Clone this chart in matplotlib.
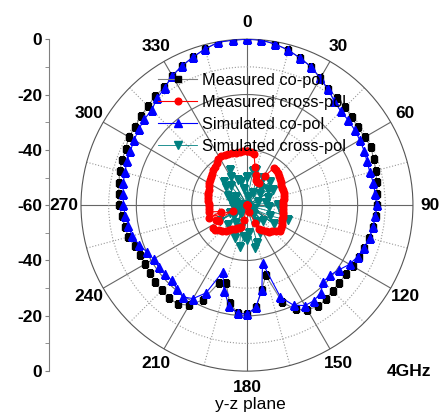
import matplotlib.pyplot as plt
import numpy as np

plt.rcParams['font.family'] = ['Liberation Sans', 'DejaVu Sans']

# 4 GHz patterns, y-z plane, dB (5 deg steps, clockwise from 0 at top)
angles = np.arange(0, 360, 5)

meas_co = [0, -0.1, -0.9, -2, -3.5, -4.9, -7, -8.9, -9.2, -9.8, -10.6, -11,
           -10.8, -10.5, -11.3, -11.7, -12.4, -12.8, -13, -13.3, -13.8, -14.4, -15, -15.5,
           -15.9, -16.3, -16.4, -16.2, -15.6, -15.3, -16.4, -18.4, -22.7, -33.7, -29, -23,
           -20.6, -21, -24, -30.8, -30, -22.2, -18.2, -16.4, -16.1, -16.5, -16.7, -17.1,
           -17.5, -17.3, -16.8, -15.6, -15.2, -14.6, -13.8, -13.5, -13, -12.4, -12, -11.6,
           -10.7, -10.6, -9.9, -9.4, -8.4, -8, -6, -4.5, -3, -1.5, -0.2, -0.1]

sim_co = [0, -0.1, -0.9, -2, -3.5, -4.9, -7, -8.9, -10.9, -12, -12.2, -12.5,
          -12.9, -13.3, -13.8, -14, -13.6, -13.5, -13.1, -13.4, -13.8, -14.1, -14.8, -15.9,
          -17.2, -19.3, -20.7, -20.9, -18.6, -17.8, -18.1, -20.1, -24.6, -38.3, -29, -22.9,
          -20.6, -20.7, -23, -28, -34.4, -25, -21, -19.5, -20.5, -21.5, -21.4, -21,
          -21, -20, -18.4, -17, -16.5, -15.8, -15.3, -15.1, -14.5, -14.3, -13.8, -13.5,
          -12.9, -12.2, -11.6, -11.3, -9.5, -8.2, -6, -4.4, -3, -1.5, -0.2, -0.1]

sim_cross = [-49.7, -57, -47.6, -46.7, -50, -55, -48.7, -60, -52, -48.1, -54, -50.6,
             -49, -60, -51.9, -56, -60, -53, -48.7, -52, -60, -47, -44.1, -50.9,
             -57, -47.9, -60, -52, -56, -60, -53, -49, -60, -45.7, -44.1, -50,
             -47.3, -48.5, -44.7, -51.4, -47.4, -60, -52.4, -56, -60, -50.1, -53.9, -60,
             -48.8, -53.4, -60, -56, -60, -55, -57, -60, -56, -54, -54.7, -52.3,
             -60, -55, -50, -48.4, -50.9, -60, -48.4, -45.9, -50.2, -51.4, -54, -60]

# measured cross-pol is sampled more finely (4 deg steps)
cross_angles = np.arange(0, 360, 4)
meas_cross = [-40.5, -40.6, -41.5, -46, -48.5, -50.5, -51, -51, -47.4, -43.2,
              -43.5, -43.9, -44.3, -44.8, -45.3, -45.6, -45.8, -45.8, -46, -46.3,
              -46.5, -46.8, -46.9, -46.9, -46.8, -46.6, -46.5, -46.3, -46.3, -46,
              -45.5, -45, -45, -45.8, -46.8, -47.5, -48.5, -49.5, -50.4, -53,
              -57.4, -60, -60, -60, -60, -60, -60, -60, -54.4, -51.8,
              -51.3, -50.8, -50.4, -50, -49, -48, -47, -46.5, -45.5, -45.2,
              -48.5, -47.5, -54.7, -45.5, -50.5, -46, -46.3, -46.4, -46.3, -46,
              -45.8, -45.4, -45.2, -45, -44.6, -44.2, -43.8, -43.3, -42.9, -42.5,
              -42.2, -41.3, -40.2, -40, -40.2, -40.4, -40.5, -40.6, -40.6, -40.5]

tick_deg = np.arange(0, 360, 30)
tick_labels = [str(d) for d in tick_deg]
minor_deg = np.arange(15, 360, 30)
r_min, r_max = -60, 0


def closed(deg, vals):
    th = np.deg2rad(np.append(deg, deg[0]))
    return th, np.append(vals, vals[0])


fig = plt.figure(figsize=(4.45, 4.17), dpi=100)
ax = fig.add_axes([0.182, 0.110, 0.746, 0.796], projection='polar')
ax.set_theta_zero_location('N')
ax.set_theta_direction(-1)
ax.set_ylim(r_min, r_max)

ax.set_xticks(np.deg2rad(tick_deg))
ax.set_xticklabels(tick_labels, fontsize=12.5, fontweight='bold')
ax.set_xticks(np.deg2rad(minor_deg), minor=True)
ax.tick_params(axis='x', which='both', direction='in', length=4, color='#555555', pad=5)
ax.set_yticks([-40, -20])
ax.set_yticks([-50, -30, -10], minor=True)
ax.set_yticklabels([])
ax.xaxis.grid(True, which='major', color='#666666', lw=0.8, ls='-')
ax.xaxis.grid(True, which='minor', color='#999999', lw=0.8, ls=':')
ax.yaxis.grid(True, which='major', color='#666666', lw=0.8, ls='-')
ax.yaxis.grid(True, which='minor', color='#999999', lw=0.8, ls=':')
ax.spines['polar'].set_color('#555555')
ax.spines['polar'].set_linewidth(0.8)

th, r = closed(angles, meas_co)
l1, = ax.plot(th, r, color='#808080', lw=0.8, marker='s', ms=3.8,
              mfc='black', mec='black', zorder=3, label='Measured co-pol')
th, r = closed(cross_angles, meas_cross)
l2, = ax.plot(th, r, color='red', lw=0.8, marker='o', ms=4.8,
              mfc='red', mec='red', zorder=5, label='Measured cross-pol')
th, r = closed(angles, sim_co)
l3, = ax.plot(th, r, color='blue', lw=0.8, marker='^', ms=5.4,
              mfc='blue', mec='blue', zorder=4, label='Simulated co-pol')
th, r = closed(angles, sim_cross)
l4, = ax.plot(th, r, color='#008080', lw=0.6, marker='v', ms=5.4,
              mfc='#008080', mec='#008080', zorder=2, label='Simulated cross-pol')

ax.legend(handles=[l1, l2, l3, l4], loc='upper left',
          bbox_to_anchor=(158 / 445, 1 - 73 / 417), bbox_transform=fig.transFigure,
          frameon=False, fontsize=11.8, handlelength=2.4, handletextpad=0.3,
          labelspacing=0.42, borderpad=0, borderaxespad=0, numpoints=1)

# linear dB scale on the left, mirrored about the centre
sx = fig.add_axes([49 / 445, 0.110, 0.001, 0.796])
sx.set_ylim(-60, 60)
for s in ['top', 'right', 'bottom']:
    sx.spines[s].set_visible(False)
sx.spines['left'].set_color('#808080')
sx.spines['left'].set_linewidth(0.8)
sx.set_xticks([])
major = np.arange(-60, 61, 20)
sx.set_yticks(major)
sx.set_yticklabels([str(abs(v) - 60) for v in major], fontsize=12.5, fontweight='bold')
sx.set_yticks(np.arange(-50, 51, 20), minor=True)
sx.tick_params(axis='y', which='both', direction='out', length=3, color='#808080', pad=2)
sx.patch.set_visible(False)

fig.text(409 / 445, 1 - 372 / 417, '4GHz', fontsize=12.5, fontweight='bold',
         ha='center', va='center')
fig.text(250 / 445, 1 - 405 / 417, 'y-z plane', fontsize=12.5,
         ha='center', va='center')

fig.savefig('out.png', dpi=100)
